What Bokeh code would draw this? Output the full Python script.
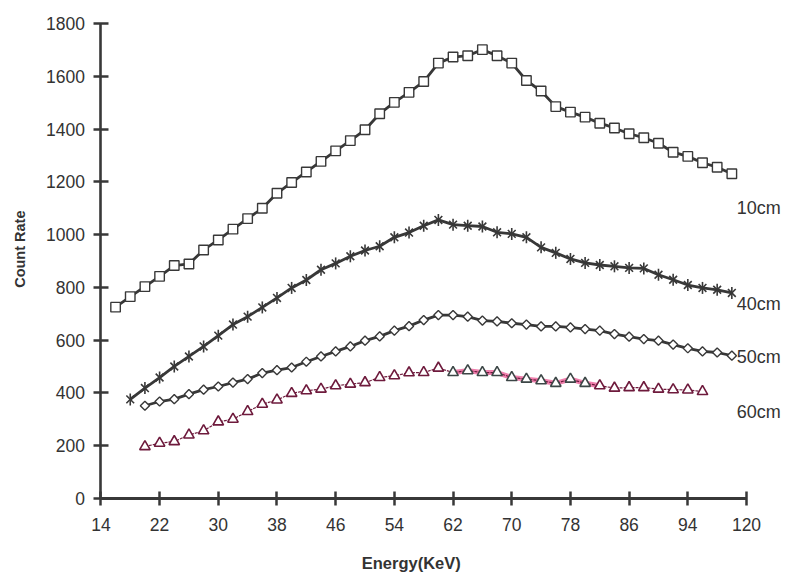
import numpy as np
from bokeh.plotting import figure
from bokeh.models import Range1d, FixedTicker, Label, ColumnDataSource
from bokeh.embed import file_html
from bokeh.resources import INLINE

# ---------------- data ----------------
energy_10 = list(range(16, 101, 2))
rate_10 = [725, 765, 803, 842, 883, 889, 942, 980, 1021, 1061, 1100, 1157, 1198, 1238,
           1278, 1318, 1357, 1398, 1459, 1502, 1540, 1581, 1651, 1674, 1679, 1702, 1679,
           1651, 1585, 1545, 1486, 1465, 1446, 1423, 1405, 1383, 1368, 1347, 1313, 1297,
           1273, 1256, 1231]
energy_40 = list(range(18, 101, 2))
rate_40 = [375, 418, 458, 500, 538, 576, 617, 659, 689, 724, 760, 798, 828, 867, 891,
           918, 940, 956, 990, 1008, 1034, 1056, 1038, 1034, 1031, 1009, 1003, 990, 952,
           931, 908, 893, 885, 880, 874, 872, 848, 829, 809, 798, 791, 779]
energy_50 = list(range(20, 101, 2))
rate_50 = [351, 367, 376, 395, 412, 424, 439, 452, 475, 486, 496, 518, 538, 557, 576,
           598, 614, 636, 653, 676, 695, 695, 689, 674, 671, 664, 659, 652, 652, 648,
           642, 636, 623, 613, 604, 598, 583, 569, 557, 553, 541]
energy_60 = list(range(20, 97, 2))
rate_60 = [196, 209, 215, 240, 256, 290, 300, 329, 357, 373, 398, 408, 414, 427, 433,
           439, 458, 465, 476, 477, 494, 477, 484, 477, 477, 458, 452, 446, 436, 452,
           436, 427, 418, 420, 420, 414, 412, 411, 405]
series_names = ["10cm", "40cm", "50cm", "60cm"]
x_ticks = [14, 22, 30, 38, 46, 54, 62, 70, 78, 86, 94, 102]
x_tick_labels = ["14", "22", "30", "38", "46", "54", "62", "70", "78", "86", "94", "120"]
y_ticks = [0, 200, 400, 600, 800, 1000, 1200, 1400, 1600, 1800]

# ---------------- figure ----------------
DARK = "#383838"
MAROON = "#6e1a3c"
PINK = "#ec5f98"
FONT = "Liberation Sans"

p = figure(width=786, height=573, output_backend="svg", toolbar_location=None,
           x_range=Range1d(0.315, 107.45), y_range=Range1d(-285.5, 1888.5),
           min_border=0, min_border_left=0, min_border_right=0, min_border_top=0,
           min_border_bottom=0)
p.outline_line_color = None
p.xgrid.visible = False
p.ygrid.visible = False
p.background_fill_color = "white"

for ax in (p.xaxis[0], p.yaxis[0]):
    ax.axis_line_color = DARK
    ax.major_tick_line_width = 2.5
    ax.major_tick_line_color = DARK
    ax.minor_tick_line_color = None
    ax.major_label_text_font = FONT
    ax.major_label_text_font_size = "17.5px"
    ax.major_label_text_color = "#333333"

p.xaxis.axis_line_width = 3
p.yaxis.axis_line_width = 2.6
p.xaxis.fixed_location = 0
p.xaxis.bounds = (14, 102)
p.xaxis.ticker = FixedTicker(ticks=x_ticks)
p.xaxis.major_label_overrides = {t: l for t, l in zip(x_ticks, x_tick_labels)}
p.xaxis.major_tick_in = 7
p.xaxis.major_tick_out = 7
p.xaxis.major_label_standoff = 13
p.yaxis.fixed_location = 14
p.yaxis.bounds = (0, 1800)
p.yaxis.ticker = FixedTicker(ticks=y_ticks)
p.yaxis.major_tick_in = 8
p.yaxis.major_tick_out = 7
p.yaxis.major_label_standoff = 9

# 10cm
p.line(energy_10, rate_10, line_color=DARK, line_width=2.8)
p.scatter(energy_10, rate_10, marker="square", size=9.5, line_color=DARK,
          fill_color="white", line_width=1.4)
# 40cm
p.line(energy_40, rate_40, line_color=DARK, line_width=2.8)
p.scatter(energy_40, rate_40, marker="x", size=11, line_color=DARK, line_width=1.6)
p.scatter(energy_40, rate_40, marker="dash", angle=np.pi / 2, size=12, line_color=DARK,
          line_width=1.6)
# 50cm
p.line(energy_50, rate_50, line_color=DARK, line_width=2.8)
p.scatter(energy_50, rate_50, marker="square", angle=np.pi / 4, size=6.5, line_color=DARK,
          fill_color="white", line_width=1.4)
# 60cm
pink_x = [e for e in energy_60 if 62 <= e <= 82]
pink_y = [r for e, r in zip(energy_60, rate_60) if 62 <= e <= 82]
p.line(pink_x, pink_y, line_color=PINK, line_width=5, line_alpha=0.8)
p.line(energy_60, rate_60, line_color=MAROON, line_width=1.2, line_dash="3 1")
tri_colors = ["#3c4646" if 62 <= e <= 80 else MAROON for e in energy_60]
src60 = ColumnDataSource(dict(x=energy_60, y=rate_60, c=tri_colors))
p.scatter("x", "y", source=src60, marker="triangle", size=10.5, line_color="c",
          fill_color="white", line_width=1.6)

# series labels
label_y = [1102, 738, 537, 328]
for name, ly in zip(series_names, label_y):
    p.add_layout(Label(x=100, y=ly, x_offset=5, text=name, text_font=FONT,
                       text_font_size="18px", text_color="#333333",
                       text_baseline="middle", text_align="left"))

# axis titles
p.add_layout(Label(x=56.3, y=-245, text="Energy(KeV)", text_font=FONT,
                   text_font_size="16.5px", text_font_style="bold", text_color="#333333",
                   text_align="center", text_baseline="middle"))
p.add_layout(Label(x=2.97, y=945, text="Count Rate", text_font=FONT, angle=np.pi / 2,
                   text_font_size="14.5px", text_font_style="bold", text_color="#333333",
                   text_align="center", text_baseline="middle"))

open("out.html", "w").write(file_html(p, INLINE))
